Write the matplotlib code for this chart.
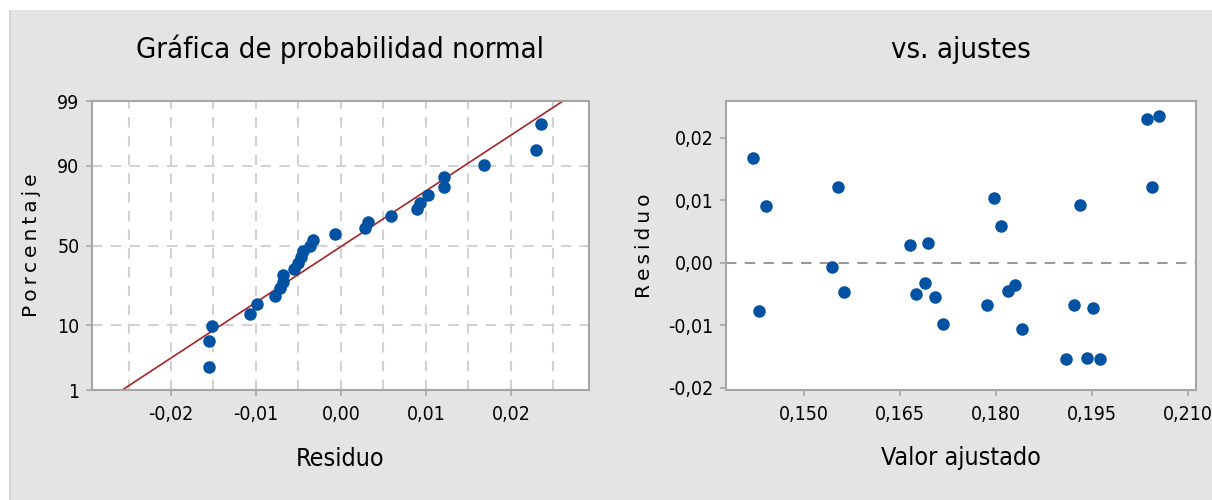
import numpy as np
import matplotlib
matplotlib.use('Agg')
from matplotlib import pyplot as plt
from matplotlib import font_manager
from matplotlib.ticker import FuncFormatter
from statistics import NormalDist

fitted = [0.1420, 0.1440, 0.1430, 0.1553, 0.1543, 0.1562, 0.1665, 0.1693, 0.1675,
          0.1688, 0.1704, 0.1717, 0.1796, 0.1808, 0.1786, 0.1818, 0.1829, 0.1840,
          0.1931, 0.1922, 0.1951, 0.1909, 0.1941, 0.1962, 0.2035, 0.2054, 0.2044]
residuals = [0.0168, 0.0090, -0.0078, 0.0121, -0.0007, -0.0047, 0.0028, 0.0032, -0.0050,
             -0.0033, -0.0055, -0.0099, 0.0103, 0.0059, -0.0068, -0.0045, -0.0036, -0.0107,
             0.0093, -0.0068, -0.0072, -0.0155, -0.0152, -0.0155, 0.0230, 0.0235, 0.0121]

prob_ticks = [1, 10, 50, 90, 99]
res_xticks = [-0.02, -0.01, 0.00, 0.01, 0.02]
fit_xticks = [0.150, 0.165, 0.180, 0.195, 0.210]
res_yticks = [-0.02, -0.01, 0.00, 0.01, 0.02]

BG = '#e4e4e4'
BLUE = '#0152a3'
FRAME = '#a6a6a6'

# condensed face for titles / ticks if there is one
cond = [f for f in font_manager.fontManager.ttflist
        if 'condensed' in str(f.stretch).lower() or 'Narrow' in f.name or 'Condensed' in f.fname]
NARROW = dict(family=cond[0].name, stretch=cond[0].stretch) if cond else dict(family='DejaVu Sans')

nd = NormalDist()
z = lambda p: nd.inv_cdf(p / 100.0)


def comma(dec):
    return FuncFormatter(lambda v, pos: f'{v:.{dec}f}'.replace('.', ','))


fig = plt.figure(figsize=(12.12, 5.0), dpi=100, facecolor='white')
# grey panel with white strip on top / left
fig.patches.append(plt.Rectangle((9 / 1212, 0), 1, 1 - 10 / 500, transform=fig.transFigure,
                                 facecolor=BG, edgecolor='none', zorder=-10))
fig.patches.append(plt.Rectangle((9 / 1212, 0), 2 / 1212, 1 - 10 / 500, transform=fig.transFigure,
                                 facecolor='#d4d4d4', edgecolor='none', zorder=-9))

ax1 = fig.add_axes([92 / 1212, 1 - 390 / 500, 497 / 1212, 289 / 500])
ax2 = fig.add_axes([726 / 1212, 1 - 390 / 500, 470 / 1212, 289 / 500])

for ax in (ax1, ax2):
    ax.set_facecolor('white')
    for s in ax.spines.values():
        s.set_color(FRAME)
        s.set_linewidth(1.5)
    ax.tick_params(axis='both', colors=FRAME, labelcolor='black',
                   length=4, width=1.2, direction='out')
    ax.tick_params(axis='x', pad=7)
    ax.tick_params(axis='y', pad=5)

# --- normal probability plot ---
r = np.sort(np.array(residuals))
n = len(r)
pct = (np.arange(1, n + 1) - 0.3) / (n + 0.4) * 100
zs = np.array([z(p) for p in pct])
mu, sd = r.mean(), r.std(ddof=1)

for xv in np.arange(-0.025, 0.0251, 0.005):
    ax1.axvline(xv, color='#d2d2d2', lw=1.5, ls=(0, (5, 4)), zorder=0)
for p in [10, 50, 90]:
    ax1.axhline(z(p), color='#d2d2d2', lw=1.5, ls=(0, (5, 4)), zorder=0)

zline = np.array([z(0.5), z(99.5)])
ax1.plot(mu + sd * zline, zline, color='#a52328', lw=1.2, zorder=2)
ax1.plot(r, zs, 'o', color=BLUE, ms=8, mec=BLUE, zorder=3)

ax1.set_xlim(-0.0293, 0.0292)
ax1.set_ylim(z(1), z(99))
ax1.set_xticks(res_xticks)
ax1.xaxis.set_major_formatter(comma(2))
ax1.set_yticks([z(p) for p in prob_ticks])
ax1.set_yticklabels([str(p) for p in prob_ticks])
ax1.set_title('Gráfica de probabilidad normal', fontsize=21, pad=31, fontweight='medium', **NARROW)
ax1.set_xlabel('Residuo', fontsize=18, labelpad=16, **NARROW)
ax1.set_ylabel('P\u2009o\u2009r\u2009c\u2009e\u2009n\u2009t\u2009a\u2009j\u2009e',
               fontsize=14.5, labelpad=12, family='DejaVu Sans')

# --- residuals vs fits ---
ax2.axhline(0, color='#9a9a9a', lw=1.5, ls=(0, (5, 4)), zorder=1)
ax2.plot(fitted, residuals, 'o', color=BLUE, ms=8, mec=BLUE, ls='none', zorder=3)
ax2.set_xlim(0.1378, 0.2112)
ax2.set_ylim(-0.0204, 0.0259)
ax2.set_xticks(fit_xticks)
ax2.xaxis.set_major_formatter(comma(3))
ax2.set_yticks(res_yticks)
ax2.yaxis.set_major_formatter(comma(2))
ax2.set_title('vs. ajustes', fontsize=21, pad=31, fontweight='medium', **NARROW)
ax2.set_xlabel('Valor ajustado', fontsize=18, labelpad=16, **NARROW)
ax2.set_ylabel('R\u2009e\u2009s\u2009i\u2009d\u2009u\u2009o',
               fontsize=14.5, labelpad=10, family='DejaVu Sans')

for ax in (ax1, ax2):
    for lbl in ax.get_xticklabels() + ax.get_yticklabels():
        lbl.set_fontsize(14)
        lbl.set_family(NARROW['family'])
        if 'stretch' in NARROW:
            lbl.set_stretch(NARROW['stretch'])

fig.savefig('out.png', dpi=100, facecolor=fig.get_facecolor())
